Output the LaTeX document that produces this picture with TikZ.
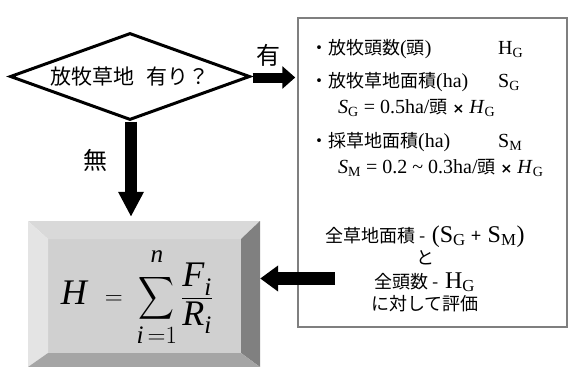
\documentclass[tikz,border=0pt]{standalone}
\usepackage{amsmath}
\usepackage{graphicx}
\usepackage{fontspec}
\setmainfont{Liberation Serif}
\newfontfamily\jpf{Noto Sans CJK JP}
\newfontfamily\symf{DejaVu Sans}
\newcommand\J[1]{{\jpf\fontsize{18}{20}\selectfont #1}}
\newcommand\Tm{{\symf\bfseries\fontsize{14}{16}\selectfont ×}}
\usetikzlibrary{shapes.geometric,arrows.meta,calc}
\definecolor{boxgray}{HTML}{7F7F7F}
\definecolor{bvtop}{HTML}{D9D9D9}
\definecolor{bvleft}{HTML}{E4E4E4}
\definecolor{bvface}{HTML}{D0D0D0}
\definecolor{bvright}{HTML}{808080}
\definecolor{bvbottom}{HTML}{A5A5A5}
\begin{document}
\begin{tikzpicture}[x=1pt,y=-1pt,
  txt/.style={inner sep=0pt, anchor=base west, font=\fontsize{20}{22}\selectfont},
  ctxt/.style={inner sep=0pt, anchor=base, font=\fontsize{24}{26}\selectfont},
  lbl/.style={inner sep=0pt, font=\jpf\fontsize{24}{26}\selectfont}]
\useasboundingbox (0,0) rectangle (568,367);
% decision diamond
\node[draw, diamond, aspect=2.76, line width=3pt, minimum width=240pt, minimum height=87pt, inner sep=0pt,
      font=\jpf\fontsize{21}{23}\selectfont] (dia) at (130,76.5) {放牧草地\hspace{0.6em}有り？};
% info box
\node[draw=boxgray, line width=1.5pt, minimum width=269pt, minimum height=309pt, inner sep=0pt] (info) at (432.5,172.5) {};
% formula box with bevel
\node[minimum width=232pt, minimum height=146pt, inner sep=0pt] (hbox) at (144,294) {};
\fill[bvface] (48,239) rectangle (241,353);
\fill[bvtop] (28,221) -- (260,221) -- (241,239) -- (48,239) -- cycle;
\fill[bvleft] (28,221) -- (48,239) -- (48,353) -- (28,367) -- cycle;
\fill[bvright] (260,221) -- (260,367) -- (241,353) -- (241,239) -- cycle;
\fill[bvbottom] (28,367) -- (48,353) -- (241,353) -- (260,367) -- cycle;
\node[inner sep=0pt, font=\fontsize{36}{40}\selectfont] (formula) at (137,297)
  {$\displaystyle \textit{H}\;\, = \;\mathop{\vcenter{\hbox{\scalebox{1.0}[1.2]{$\displaystyle\sum$}}}}\limits_{\textit{i}\,=1}^{\raisebox{7pt}{$\scriptstyle\textit{n}$}}\frac{\textit{F}_{\textit{i}}}{\textit{R}_{\textit{i}}}$};
% texts in info box
\node[txt] (t1) at (310,54) {\J{・放牧頭数}(\J{頭})};
\node[txt] (t1b) at (498,54) {H\textsubscript{G}};
\node[txt] (t2) at (310,87) {\J{・放牧草地面積}(ha)};
\node[txt] (t2b) at (498,87) {S\textsubscript{G}};
\node[txt] (t3) at (338,113) {\textit{S}\textsubscript{G} = 0.5ha/\J{頭} \Tm\ \textit{H}\textsubscript{G}};
\node[txt] (t4) at (310,147) {\J{・採草地面積}(ha)};
\node[txt] (t4b) at (498,147) {S\textsubscript{M}};
\node[txt] (t5) at (338,173) {\textit{S}\textsubscript{M} = 0.2 \textasciitilde{} 0.3ha/\J{頭} \Tm\ \textit{H}\textsubscript{G}};
\node[ctxt] (t6) at (425,242) {\J{全草地面積 -} (S\textsubscript{G} \J{+} S\textsubscript{M})};
\node[ctxt] (t7) at (425,264) {\J{と}};
\node[ctxt] (t8) at (425,288) {\J{全頭数 -} H\textsubscript{G}};
\node[ctxt] (t9) at (425,310) {\J{に対して評価}};
% labels
\node[lbl] (yes) at (268,55) {有};
\node[lbl] (no) at (95,160) {無};
% arrows
\draw[line width=10pt, -{Triangle[length=13pt,width=22pt]}, shorten >=2pt]
  ($(dia.east)+(1,1)$) -- ($(dia.east -| info.west)+(0,1)$);
\draw[line width=12pt, -{Triangle[length=25pt,width=24pt]}, shorten >=4pt]
  ($(dia.south)+(1,0)$) -- ($(dia.south |- hbox.north)+(1,0)$);
\coordinate (la) at (335,278.5);
\draw[line width=13pt, -{Triangle[length=18pt,width=25pt]}]
  (la) -- (la -| hbox.east);
\end{tikzpicture}
\end{document}
